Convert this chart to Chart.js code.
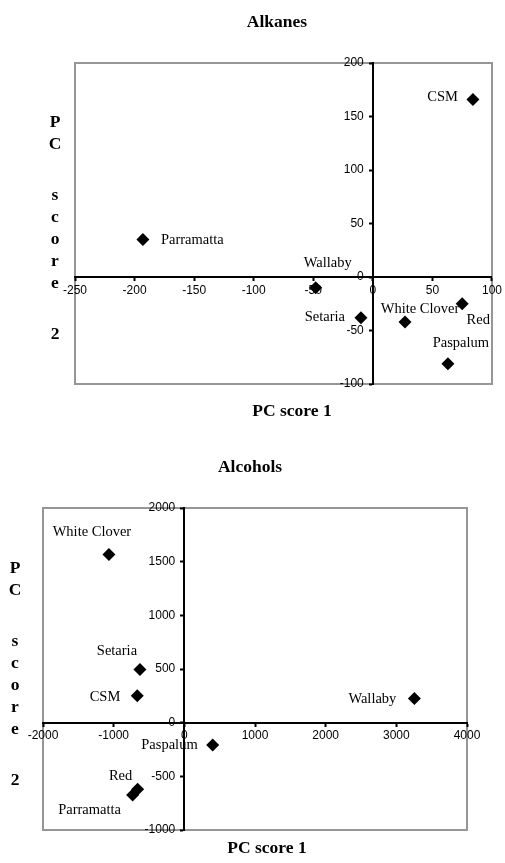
<!DOCTYPE html>
<html>
<head>
<meta charset="utf-8">
<script src="https://cdn.jsdelivr.net/npm/chart.js@4.4.1/dist/chart.umd.min.js"></script>
<style>
  body { margin: 0; background: #fff; }
  canvas { display: block; }
</style>
</head>
<body>
<canvas id="alkanes-chart" width="505" height="440"></canvas>
<canvas id="alcohols-chart" width="505" height="423"></canvas>
<script>
// Alkanes PCA scores
const alkaneNames = ['CSM', 'Parramatta', 'Wallaby', 'Setaria', 'White Clover', 'Red', 'Paspalum'];
const alkanePC1 = [84, -193, -48, -10, 27, 75, 63];
const alkanePC2 = [166, 35, -10, -38, -42, -25, -81];
const alkaneXTicks = [-250, -200, -150, -100, -50, 0, 50, 100];
const alkaneYTicks = [-100, -50, 0, 50, 100, 150, 200];

// Alcohols PCA scores
const alcoholNames = ['White Clover', 'Setaria', 'CSM', 'Wallaby', 'Paspalum', 'Red', 'Parramatta'];
const alcoholPC1 = [-1067, -628, -666, 3255, 401, -661, -732];
const alcoholPC2 = [1566, 496, 250, 226, -209, -621, -674];
const alcoholXTicks = [-2000, -1000, 0, 1000, 2000, 3000, 4000];
const alcoholYTicks = [-1000, -500, 0, 500, 1000, 1500, 2000];

// where each name sits next to its marker: [align, dx, dy]
const alkaneLabelPos = [['right', -15, -2], ['left', 18, 1], ['center', 12, -25], ['right', -16, 0],
  ['center', 15, -13], ['center', 16, 16], ['center', 13, -20]];
const alcoholLabelPos = [['center', -17, -22], ['center', -23, -18], ['right', -17, 1], ['right', -18, 1],
  ['right', -15, 0], ['center', -17, -13], ['center', -43, 15]];

const stackedTitle = ['P', 'C', '', 's', 'c', 'o', 'r', 'e', '', '2'];

const pcText = {
  id: 'pcText',
  beforeDraw(chart) {
    const a = chart.chartArea, ctx = chart.ctx;
    ctx.save();
    ctx.strokeStyle = '#969696';
    ctx.lineWidth = 2;
    ctx.strokeRect(a.left, a.top, a.right - a.left, a.bottom - a.top);
    ctx.restore();
  },
  afterDatasetsDraw(chart, args, opts) {
    const ctx = chart.ctx;
    ctx.save();
    ctx.fillStyle = '#000';
    ctx.font = 'bold 17.5px "Liberation Serif"';
    ctx.textAlign = 'center';
    ctx.textBaseline = 'alphabetic';
    ctx.fillText(opts.title, opts.titleX, opts.titleY);
    ctx.fillText('PC score 1', opts.xTitleX, opts.xTitleY);
    let y = opts.yTitleY;
    stackedTitle.forEach(ch => {
      if (ch) ctx.fillText(ch, opts.yTitleX, y);
      y += ch ? 22 : 29;
    });

    ctx.font = '14.5px "Liberation Serif"';
    ctx.textBaseline = 'middle';
    chart.getDatasetMeta(0).data.forEach((pt, i) => {
      const [align, dx, dy] = opts.labelPos[i];
      ctx.textAlign = align;
      ctx.fillText(opts.names[i], pt.x + dx, pt.y + dy);
    });
    ctx.restore();
  }
};

function axis(ticks, pos, vertical) {
  return {
    type: 'linear',
    min: ticks[0],
    max: ticks[ticks.length - 1],
    position: pos,
    afterBuildTicks: s => { s.ticks = ticks.map(v => ({ value: v })); },
    border: { color: '#000', width: 2 },
    grid: { display: true, drawOnChartArea: false, drawTicks: true, tickLength: 3, tickColor: '#000', tickWidth: 2 },
    ticks: {
      color: '#000',
      padding: 3,
      font: { family: '"Liberation Sans", Arial', size: 12 },
      // a y axis placed at x=0 puts its labels right on the line, so pad them off it
      callback: v => vertical ? String(v) + '  \u2009' : String(v)
    }
  };
}

function pcChart(id, names, xs, ys, xTicks, yTicks, padding, text) {
  return new Chart(document.getElementById(id), {
    type: 'scatter',
    data: {
      datasets: [{
        data: xs.map((x, i) => ({ x: x, y: ys[i] })),
        pointStyle: 'rectRot',
        pointRadius: 6.5,
        backgroundColor: '#000',
        borderColor: '#000',
        borderWidth: 0
      }]
    },
    options: {
      responsive: false,
      animation: false,
      layout: { padding: padding },
      scales: {
        x: axis(xTicks, { y: 0 }, false),
        y: axis(yTicks, { x: 0 }, true)
      },
      plugins: {
        legend: { display: false },
        tooltip: { enabled: false },
        pcText: Object.assign({ names: names }, text)
      }
    },
    plugins: [pcText]
  });
}

pcChart('alkanes-chart', alkaneNames, alkanePC1, alkanePC2, alkaneXTicks, alkaneYTicks,
  { left: 75, right: 11, top: 63, bottom: 56 },
  { title: 'Alkanes', titleX: 277, titleY: 27, xTitleX: 292, xTitleY: 416, yTitleX: 55, yTitleY: 127, labelPos: alkaneLabelPos });

pcChart('alcohols-chart', alcoholNames, alcoholPC1, alcoholPC2, alcoholXTicks, alcoholYTicks,
  { left: 43, right: 38, top: 68, bottom: 33 },
  { title: 'Alcohols', titleX: 250, titleY: 32, xTitleX: 267, xTitleY: 413, yTitleX: 15, yTitleY: 133, labelPos: alcoholLabelPos });
</script>
</body>
</html>
